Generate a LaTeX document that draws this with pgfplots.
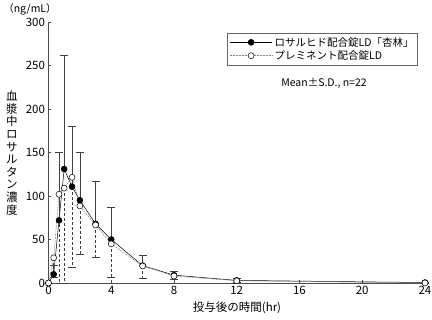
\documentclass[border=0pt]{standalone}
\usepackage{fontspec}
\setmainfont{Noto Sans CJK JP}
\usepackage{pgfplots}
\usepackage{pgfplotstable}
\pgfplotsset{compat=1.18}
\pgfplotstableread{
t m sd
0 0 0
0.33 10 10
0.67 72 78
1 131 131
1.5 110.7 69
2 95 55
3 68 48.5
4 50 37
6 20 12
8 9 5
12 3 3
24 0.5 0.5
}\rosal
\pgfplotstableread{
t m sd
0 0 0
0.33 29 22
0.67 102 102
1 109 109
1.5 121.5 103
2 88.5 56
3 66.7 37
4 45 38
6 19.5 13.5
8 8 4
12 2.5 1.5
24 0 0
}\premi
\begin{document}
\begin{tikzpicture}[x=1pt,y=1pt]
\path[use as bounding box] (-48.5,-37) rectangle (383.5,283);
\begin{axis}[at={(0,0)}, anchor=south west, scale only axis,
  width=376.5pt, height=261pt,
  xmin=0, xmax=24, ymin=0, ymax=300,
  axis x line*=bottom, axis y line*=left,
  axis line style={black!70, line width=0.6pt},
  xtick={0,4,...,24}, ytick={0,50,...,300},
  tick align=inside, major tick length=3pt,
  tick style={black!70, line width=0.6pt},
  ticklabel style={font=\fontsize{11.5}{12}\selectfont},
  /pgf/number format/assume math mode=true,
  clip=false,
  legend style={at={(0.981,0.958)}, anchor=north east, draw=black!60,
    font=\fontsize{10.5}{12}\selectfont, row sep=-1pt, inner sep=2pt},
  legend cell align=left,
  legend image code/.code={\draw[mark repeat=2,mark phase=2] plot coordinates {(0cm,0cm)(0.75cm,0cm)(1.5cm,0cm)};},
]
\addplot[black, line width=0.5pt, mark=*, mark size=3pt, mark options={fill=black, solid},
  error bars/.cd, y dir=plus, y explicit,
  error mark options={rotate=90, mark size=4pt, black!75, solid, line width=0.5pt},
  error bar style={black!75, line width=0.5pt, solid}]
  table[x=t, y=m, y error=sd]{\rosal};
\addlegendentry{ロサルヒド配合錠LD「杏林」}
\addplot[black!50, line width=0.5pt, dash pattern=on 2pt off 1pt, mark=*, mark size=3pt, mark options={fill=white, draw=black, solid},
  error bars/.cd, y dir=minus, y explicit,
  error mark options={rotate=90, mark size=4pt, black!75, solid, line width=0.5pt},
  error bar style={black!75, line width=0.5pt, dash pattern=on 3pt off 2pt}]
  table[x=t, y=m, y error=sd]{\premi};
\addlegendentry{プレミネント配合錠LD}
\end{axis}
\node[font=\fontsize{10.5}{12}\selectfont] at (275.5,200) {Mean±S.D., n=22};
\node[font=\fontsize{10.5}{12}\selectfont] at (-18.5,274) {（ng/mL）};
\node[font=\fontsize{11.5}{12.6}\selectfont, align=center, inner sep=0pt] at (-36.5,130) {血\\漿\\中\\ロ\\サ\\ル\\タ\\ン\\濃\\度};
\node[font=\fontsize{11.5}{12}\selectfont] at (188.5,-25) {投与後の時間(hr)};
\end{tikzpicture}
\end{document}
